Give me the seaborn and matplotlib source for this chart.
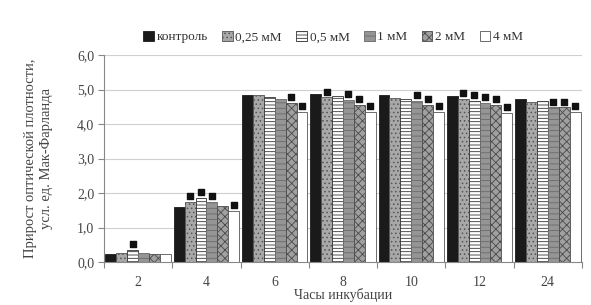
import pandas as pd
import numpy as np
import matplotlib
matplotlib.use("Agg")
import matplotlib.pyplot as plt
import seaborn as sns

# data
hours = ["2", "4", "6", "8", "10", "12", "24"]
concs = ["контроль", "0,25 мМ", "0,5 мМ", "1 мМ", "2 мМ", "4 мМ"]
control = [0.23, 1.59, 4.84, 4.87, 4.84, 4.81, 4.72]
c025 = [0.27, 1.75, 4.85, 4.77, 4.76, 4.72, 4.65]
c05 = [0.35, 1.85, 4.79, 4.82, 4.72, 4.67, 4.66]
c1 = [0.25, 1.74, 4.73, 4.69, 4.67, 4.60, 4.48]
c2 = [0.24, 1.63, 4.61, 4.55, 4.55, 4.55, 4.48]
c4 = [0.24, 1.49, 4.35, 4.34, 4.35, 4.33, 4.34]
# significance marks (1 = black square above bar)
sig_control = [0, 0, 0, 0, 0, 0, 0]
sig_025 = [0, 1, 0, 1, 0, 1, 0]
sig_05 = [1, 1, 0, 0, 0, 1, 0]
sig_1 = [0, 1, 0, 1, 1, 1, 1]
sig_2 = [0, 0, 1, 1, 1, 1, 1]
sig_4 = [0, 1, 1, 1, 1, 1, 1]

series = [control, c025, c05, c1, c2, c4]
sigs = [sig_control, sig_025, sig_05, sig_1, sig_2, sig_4]

rows = []
for name, vals in zip(concs, series):
    for h, v in zip(hours, vals):
        rows.append({"hours": h, "conc": name, "value": v})
df = pd.DataFrame(rows)

sns.set_theme(style="white")
plt.rcParams["font.family"] = ["Liberation Serif", "DejaVu Serif"]
plt.rcParams["hatch.linewidth"] = 0.6

faces = ["#1a1a1a", "#a8a8a8", "#ffffff", "#959595", "#a0a0a0", "#ffffff"]
edges = ["#1a1a1a", "#555555", "#333333", "#6a6a6a", "#4a4a4a", "#555555"]
hatches = [None, "....", "-----", "---", "xxxx", None]

fig = plt.figure(figsize=(5.91, 3.05), dpi=100)
ax = fig.add_axes([104 / 591, 1 - 262 / 305, 478 / 591, 207 / 305])

sns.barplot(data=df, x="hours", y="value", hue="conc", order=hours,
            hue_order=concs, palette=dict(zip(concs, faces)), width=0.96,
            gap=0, legend=False, ax=ax)

for i, cont in enumerate(ax.containers):
    for j, p in enumerate(cont.patches):
        p.set_facecolor(faces[i])
        p.set_edgecolor(edges[i])
        p.set_linewidth(0.6)
        if hatches[i]:
            p.set_hatch(hatches[i])
        if sigs[i][j]:
            ax.scatter(p.get_x() + p.get_width() / 2, p.get_height() + 0.17,
                       marker="s", s=14, color="#111111", zorder=5)

ax.set_ylim(0, 6)
ax.set_xlim(-0.5, len(hours) - 0.5)
yt = [0, 1, 2, 3, 4, 5, 6]
ax.set_yticks(yt)
ax.set_yticklabels([f"{v:.1f}".replace(".", ",") for v in yt])
ax.yaxis.grid(True, color="#cfcfcf", linewidth=0.8)
ax.set_axisbelow(True)

ax.set_xticks(range(len(hours)))
ax.set_xticklabels(hours)
ax.set_xticks(np.arange(-0.5, len(hours), 1), minor=True)
ax.tick_params(axis="x", which="major", length=0, pad=10, labelsize=10, colors="#444444")
ax.tick_params(axis="x", which="minor", length=4, width=0.8, color="#888888", direction="out", bottom=True)
ax.tick_params(axis="y", length=4, width=0.8, color="#888888", direction="out", left=True,
               labelsize=10, colors="#444444", pad=3)

for s in ["top", "right"]:
    ax.spines[s].set_visible(False)
for s in ["left", "bottom"]:
    ax.spines[s].set_color("#888888")
    ax.spines[s].set_linewidth(0.8)

ax.set_xlabel("Часы инкубации", fontsize=10, color="#444444", labelpad=-1)
ax.set_ylabel("Прирост оптической плотности,\nусл. ед. Мак-Фарланда",
              fontsize=10.5, color="#444444", labelpad=17, linespacing=1.35)

fig.legend(ax.containers, concs, loc="center", bbox_to_anchor=(333 / 591, 1 - 37 / 305),
           ncol=6, frameon=False, fontsize=9.5, handlelength=0.8, handleheight=0.8,
           handletextpad=0.2, columnspacing=1.1, labelcolor="#333333")

fig.savefig("out.png", dpi=100)
